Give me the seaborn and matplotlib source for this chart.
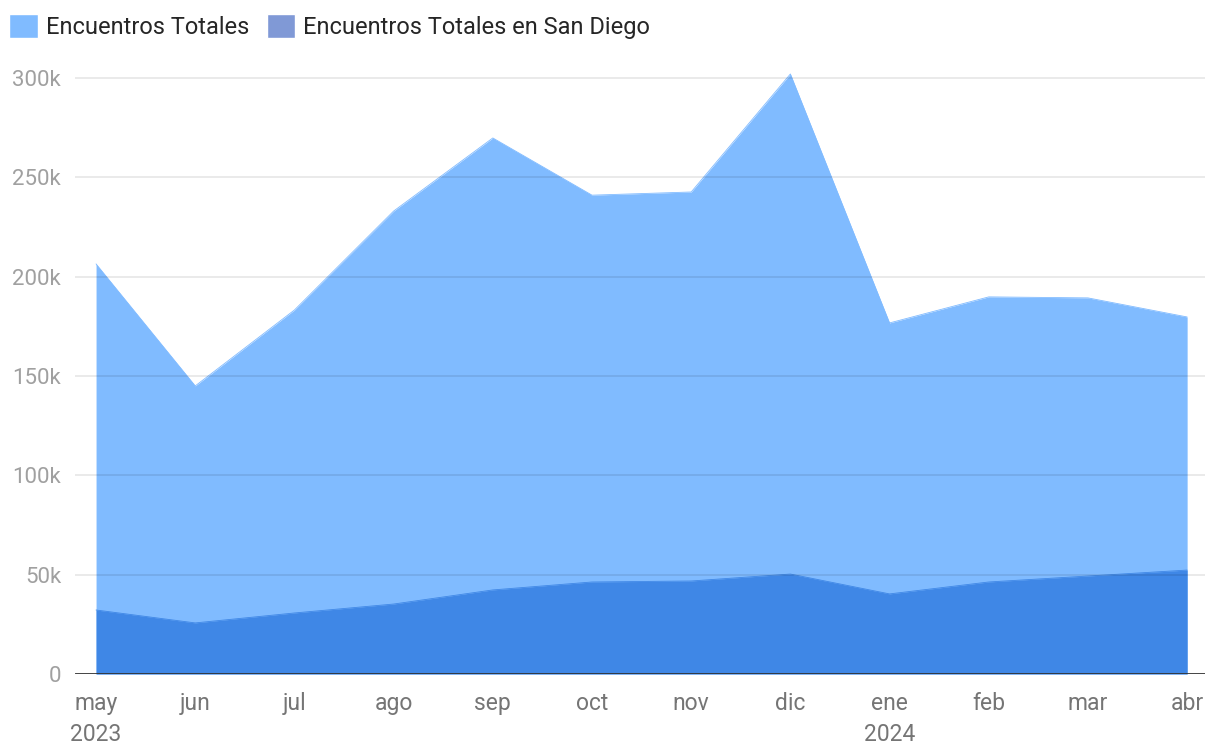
import matplotlib
matplotlib.use("Agg")
import matplotlib.pyplot as plt
from matplotlib.patches import Patch
import seaborn as sns
import pandas as pd

# Data (thousands)
months = ["may\n2023", "jun", "jul", "ago", "sep", "oct", "nov", "dic", "ene\n2024", "feb", "mar", "abr"]
total = [206.4, 145.0, 183.2, 233.0, 269.8, 241.0, 242.6, 302.0, 176.7, 189.8, 189.3, 179.7]
san_diego = [32.2, 25.7, 30.7, 35.2, 42.3, 46.3, 46.8, 50.3, 40.3, 46.3, 49.3, 52.3]
yticks = [0, 50, 100, 150, 200, 250, 300]
ytick_labels = ["0", "50k", "100k", "150k", "200k", "250k", "300k"]

sns.set_style("white")
plt.rcParams["font.family"] = ["Roboto", "DejaVu Sans"]

df = pd.DataFrame({"x": range(len(months)), "total": total, "sd": san_diego})

fig = plt.figure(figsize=(12.2, 7.56), dpi=100)
ax = fig.add_axes([0.0615, 0.1085, 0.9262, 0.7989])

light = "#80bbff"
dark = "#3f87e6"

ax.fill_between(df["x"], 0, df["total"], color=light, linewidth=0, zorder=1)
ax.fill_between(df["x"], 0, df["sd"], color=dark, linewidth=0, zorder=2)
sns.lineplot(data=df, x="x", y="total", ax=ax, color=light, linewidth=0.6, zorder=1)
sns.lineplot(data=df, x="x", y="sd", ax=ax, color=dark, linewidth=0.6, zorder=2)

for y in yticks[1:]:
    ax.axhline(y, color="black", alpha=0.09, linewidth=1.3, zorder=3)
ax.axhline(0, color="#333333", linewidth=2, zorder=4)

ax.set_xlim(-0.212, 11.18)
ax.set_ylim(0, 304)
ax.set_yticks(yticks)
ax.set_yticklabels(ytick_labels, fontsize=16, color="#a0a0a0")
ax.set_xticks(range(len(months)))
ax.set_xticklabels(months, fontsize=16.5, color="#757575", linespacing=1.45, va="top")
ax.tick_params(axis="both", length=0)
ax.tick_params(axis="x", pad=13)
ax.tick_params(axis="y", pad=10)
ax.set_xlabel("")
ax.set_ylabel("")
sns.despine(ax=ax, left=True, bottom=True, top=True, right=True)

handles = [Patch(facecolor=light, label="Encuentros Totales"),
           Patch(facecolor="#8099d6", label="Encuentros Totales en San Diego")]
fig.legend(handles=handles, loc="upper left", bbox_to_anchor=(-0.006, 1.003), ncol=2,
           frameon=False, fontsize=17, handlelength=1.2, handleheight=1.2,
           handletextpad=0.35, columnspacing=0.75, borderaxespad=0.3)

fig.savefig("out.png", dpi=100)
